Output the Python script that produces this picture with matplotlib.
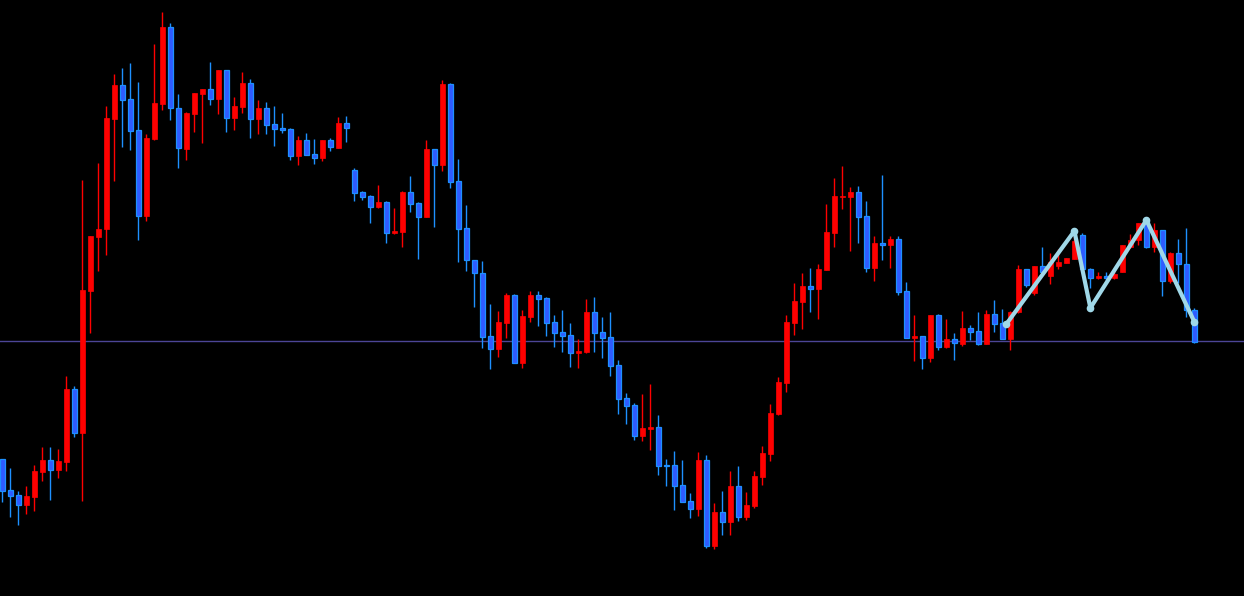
"""
Candlestick chart on black with a zigzag overlay.
Prices are in the chart's own vertical units, read top-down (axis inverted).
"""
import matplotlib
matplotlib.use("Agg")
import matplotlib.pyplot as plt
import numpy as np

# OHLC per candle (top-down units: smaller = higher on screen)
open_ = [459, 490, 495, 505, 497, 472, 460, 470, 462, 389,
         433, 291, 237, 229, 119, 85, 99, 130, 216, 139,
         104, 27, 108, 149, 114, 94, 89, 99, 70, 118,
         107, 83, 119, 108, 124, 128, 129, 156, 140, 154,
         158, 140, 148, 123, 170, 192, 196, 207, 202, 233,
         232, 192, 203, 217, 149, 165, 84, 181, 228, 260,
         273, 336, 349, 323, 295, 363, 317, 295, 298, 322,
         332, 335, 353, 352, 312, 332, 337, 365, 398, 405,
         436, 429, 427, 465, 465, 485, 501, 509, 460, 546,
         512, 522, 486, 517, 506, 477, 454, 414, 383, 323,
         302, 286, 289, 270, 233, 197, 197, 192, 216, 268,
         243, 245, 239, 291, 338, 336, 358, 315, 347, 339,
         344, 328, 331, 344, 314, 323, 339, 312, 269, 293,
         266, 276, 266, 263, 259, 235, 269, 278, 276, 278,
         272, 247, 240, 221, 247, 230, 281, 253, 264, 310]
high = [459, 468, 491, 486, 465, 447, 447, 449, 376, 386,
        180, 236, 163, 106, 74, 68, 63, 82, 134, 44,
        12, 23, 94, 112, 93, 89, 62, 70, 70, 97,
        72, 79, 100, 102, 106, 113, 128, 136, 133, 139,
        140, 138, 117, 116, 168, 191, 195, 185, 201, 208,
        191, 176, 202, 140, 149, 80, 83, 159, 205, 260,
        261, 304, 311, 293, 294, 310, 291, 291, 297, 315,
        310, 323, 339, 299, 297, 317, 312, 360, 393, 403,
        394, 384, 415, 459, 451, 460, 493, 452, 455, 503,
        491, 471, 466, 492, 471, 446, 404, 377, 315, 283,
        273, 268, 264, 204, 178, 166, 187, 186, 201, 236,
        175, 236, 236, 282, 315, 336, 315, 314, 319, 333,
        311, 325, 312, 310, 300, 309, 311, 265, 269, 266,
        247, 253, 249, 258, 233, 233, 268, 272, 272, 270,
        245, 234, 223, 219, 223, 230, 252, 239, 228, 308]
low = [502, 517, 525, 514, 511, 481, 500, 478, 471, 437,
       501, 333, 271, 255, 181, 147, 150, 240, 221, 140,
       110, 120, 168, 160, 132, 143, 105, 114, 132, 130,
       113, 138, 134, 134, 146, 133, 160, 165, 155, 164,
       161, 151, 148, 142, 201, 200, 223, 208, 243, 234,
       247, 212, 259, 217, 227, 171, 188, 262, 271, 307,
       348, 369, 357, 338, 363, 368, 322, 326, 336, 347,
       352, 367, 368, 353, 352, 358, 376, 414, 424, 440,
       441, 450, 475, 486, 510, 502, 518, 516, 548, 549,
       535, 535, 521, 520, 508, 485, 461, 415, 392, 335,
       329, 312, 319, 270, 247, 209, 251, 243, 272, 281,
       260, 268, 295, 338, 361, 369, 362, 350, 348, 360,
       346, 340, 345, 344, 332, 339, 350, 313, 287, 295,
       273, 284, 269, 263, 259, 270, 288, 279, 280, 279,
       272, 248, 245, 248, 252, 296, 283, 283, 317, 343]
close = [491, 496, 505, 496, 471, 460, 470, 461, 389, 433,
         290, 236, 229, 118, 85, 100, 131, 216, 138, 103,
         27, 108, 148, 113, 93, 89, 99, 70, 118, 106,
         83, 119, 108, 125, 129, 130, 156, 140, 155, 158,
         140, 147, 123, 128, 193, 197, 207, 202, 233, 231,
         192, 204, 217, 149, 165, 84, 182, 229, 260, 273,
         337, 349, 322, 295, 363, 316, 295, 299, 323, 333,
         336, 353, 351, 312, 333, 338, 366, 399, 406, 436,
         428, 427, 466, 466, 486, 502, 509, 460, 546, 512,
         522, 486, 517, 505, 476, 453, 413, 382, 322, 301,
         286, 289, 269, 232, 196, 196, 192, 217, 268, 243,
         245, 239, 292, 338, 336, 358, 315, 347, 339, 343,
         328, 332, 344, 314, 324, 339, 312, 269, 285, 266,
         272, 262, 262, 258, 241, 269, 278, 276, 278, 274,
         245, 240, 223, 247, 230, 281, 253, 264, 310, 342]

# zigzag overlay (candle index, level)
zig_idx = [125.5, 134, 136, 143, 149]
zig_val = [324, 231, 308, 220, 322]

ref_level = 341.3

UP = '#ff0000'
DOWN_FILL = '#2f5bff'
DOWN_EDGE = '#1e90ff'

fig = plt.figure(figsize=(12.44, 5.96), dpi=100, facecolor='black')
ax = fig.add_axes([0, 0, 1, 1])
ax.set_facecolor('black')

x = np.arange(len(open_))
o = np.array(open_)
c = np.array(close)
up = c < o  # close above open on screen

# reference line behind candles
ax.axhline(ref_level, color='#4c4596', lw=1.0, zorder=1)

# wicks
ax.vlines(x[up], np.array(high)[up], np.array(low)[up], color=UP, lw=1.0, zorder=2)
ax.vlines(x[~up], np.array(high)[~up], np.array(low)[~up], color=DOWN_EDGE, lw=1.0, zorder=2)

# bodies
bottom = np.minimum(o, c)
height = np.maximum(np.abs(o - c), 1.2)
ax.bar(x[up], height[up], bottom=bottom[up], width=0.62, color=UP,
       edgecolor=UP, linewidth=0.5, zorder=3)
ax.bar(x[~up], height[~up], bottom=bottom[~up], width=0.62, color=DOWN_FILL,
       edgecolor=DOWN_EDGE, linewidth=0.9, zorder=3)

# zigzag
ax.plot(zig_idx, zig_val, color='#a0d8e8', lw=3.0, solid_capstyle='round',
        solid_joinstyle='round', marker='o', markersize=4.5, zorder=4)

ax.set_xlim(-0.29, 155.2)
ax.set_ylim(596, 0)
ax.axis('off')

fig.savefig('out.png', dpi=100, facecolor='black')
